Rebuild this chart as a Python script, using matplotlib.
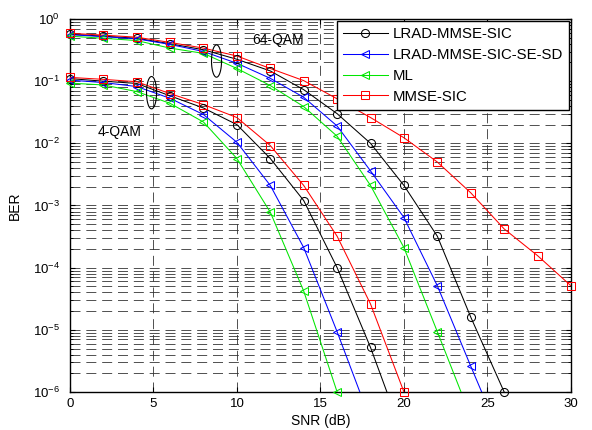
import matplotlib.pyplot as plt
from matplotlib.ticker import NullFormatter
import numpy as np

plt.rcParams['font.family'] = ['Liberation Sans', 'DejaVu Sans']

snr = np.arange(0, 31, 2)

# 4-QAM curves
qam4_lrad = [0.11, 0.10, 0.092, 0.058, 0.037, 0.020, 0.0057, 0.0012, 1.0e-4, 5.2e-6, 1.8e-7]
qam4_sesd = [0.104, 0.095, 0.082, 0.053, 0.029, 0.0104, 0.0021, 2.1e-4, 9.3e-6, 3.5e-7]
qam4_ml = [0.093, 0.087, 0.068, 0.044, 0.022, 0.0057, 7.8e-4, 4.2e-5, 1.0e-6]
qam4_mmse = [0.115, 0.107, 0.098, 0.063, 0.042, 0.026, 0.0092, 0.0021, 3.2e-4, 2.6e-5, 1.0e-6]

# 64-QAM curves
qam64_lrad = [0.57, 0.53, 0.49, 0.40, 0.32, 0.225, 0.146, 0.073, 0.030, 0.010, 0.0021,
              3.2e-4, 1.6e-5, 1.0e-6]
qam64_sesd = [0.56, 0.52, 0.48, 0.39, 0.30, 0.194, 0.111, 0.055, 0.019, 0.0036, 6.4e-4,
              5.1e-5, 2.6e-6, 1.4e-7]
qam64_ml = [0.53, 0.49, 0.45, 0.34, 0.28, 0.16, 0.085, 0.039, 0.013, 0.0021, 2.1e-4,
            9.3e-6, 4.0e-7]
qam64_mmse = [0.59, 0.55, 0.51, 0.42, 0.34, 0.254, 0.16, 0.102, 0.052, 0.026, 0.0123,
              0.0050, 0.0016, 4.2e-4, 1.56e-4, 5.1e-5]

labels = ['LRAD-MMSE-SIC', 'LRAD-MMSE-SIC-SE-SD', 'ML', 'MMSE-SIC']
styles = [('k', 'o'), ('b', '<'), ('#00e600', '<'), ('r', 's')]
groups = [[qam4_lrad, qam64_lrad], [qam4_sesd, qam64_sesd],
          [qam4_ml, qam64_ml], [qam4_mmse, qam64_mmse]]

fig = plt.figure(figsize=(5.92, 4.30), dpi=100)
ax = fig.add_axes([0.118, 0.0884, 0.8465, 0.8674])
ax.set_yscale('log')

ms = 5.8
for lab, (col, mk), curves in zip(labels, styles, groups):
    for vals in curves:
        vals = np.array(vals)
        x = snr[:len(vals)]
        ax.plot(x, vals, color=col, lw=0.75, zorder=3)
        ok = vals >= 0.99e-6
        # markers on the bottom edge are not cut, like in matlab
        ax.plot(x[ok], vals[ok], ls='none', marker=mk, ms=ms, mfc='none', mec=col,
                mew=0.75, clip_on=False, zorder=4)
    ax.plot([], [], color=col, lw=0.75, marker=mk, ms=ms, mfc='none', mec=col,
            mew=0.75, label=lab)

# ellipses marking the two curve groups
t = np.linspace(0, 2 * np.pi, 100)
for cx, cy in [(8.78, -0.676), (4.89, -1.185)]:
    ax.plot(cx + 0.3 * np.cos(t), 10 ** (cy + 0.26 * np.sin(t)), color='k', lw=0.8, zorder=5)
ax.text(10.9, 0.46, '64-QAM', fontsize=10, va='center', ha='left')
ax.text(1.68, 0.0154, '4-QAM', fontsize=10, va='center', ha='left')

ax.set_xlim(0, 30)
ax.set_ylim(1e-6, 1)
ax.set_xticks(np.arange(0, 31, 5))
ax.set_yticks(10.0 ** np.arange(-6, 1))
ax.set_yticks([m * 10.0 ** e for e in range(-6, 0) for m in range(2, 10)], minor=True)
ax.yaxis.set_minor_formatter(NullFormatter())
gdash = (0, (12, 7))
ax.grid(True, which='major', color='#333333', ls=gdash, lw=0.6)
ax.grid(True, which='minor', axis='y', color='#333333', ls=gdash, lw=0.6)
ax.tick_params(which='both', direction='in', top=True, right=True, labelsize=9.5)
ax.tick_params(axis='y', pad=7)
ax.tick_params(axis='x', pad=4)
ax.tick_params(axis='x', which='minor', bottom=False, top=False)
for s in ax.spines.values():
    s.set_linewidth(1.0)

ax.set_xlabel('SNR (dB)', fontsize=10, labelpad=3)
ax.set_ylabel('BER', fontsize=10, labelpad=8)

leg = ax.legend(loc='upper right', fontsize=10.8, handlelength=3.0, handletextpad=0.3,
                labelspacing=0.45, borderpad=0.4, fancybox=False,
                edgecolor='k', framealpha=1, borderaxespad=0.15)
leg.get_frame().set_linewidth(1.0)

fig.savefig('out.png', dpi=100)
